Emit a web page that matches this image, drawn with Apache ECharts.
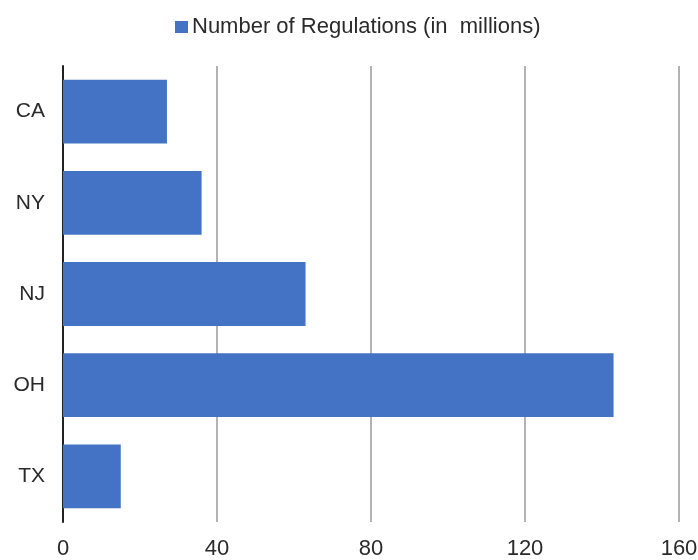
<!DOCTYPE html>
<html>
<head>
<meta charset="utf-8">
<script src="https://cdn.jsdelivr.net/npm/echarts@6/dist/echarts.min.js"></script>
<style>
  html, body { margin: 0; padding: 0; background: #fff; }
  #chart { width: 698px; height: 560px; }
</style>
</head>
<body>
<div id="chart"></div>
<script>
// states, top to bottom
const states = ["CA", "NY", "NJ", "OH", "TX"];
const regulations = [27, 36, 63, 143, 15];
const xTicks = [0, 40, 80, 120, 160];

const chart = echarts.init(document.getElementById("chart"));

const option = {
  animation: false,
  legend: {
    data: ["Number of Regulations (in  millions)"],
    top: 11,
    left: 170,
    icon: "rect",
    itemWidth: 13,
    itemHeight: 12,
    itemGap: 4,
    textStyle: {
      fontFamily: "Liberation Sans",
      fontSize: 22,
      color: "#2a2a2a",
      padding: [0, 0, 0, -1],
    },
  },
  grid: {
    left: 63,
    right: 19,
    top: 66,
    bottom: 38,
    containLabel: false,
    outerBoundsMode: "none",
  },
  xAxis: {
    type: "value",
    min: xTicks[0],
    max: xTicks[xTicks.length - 1],
    interval: 40,
    axisLine: { show: false },
    axisTick: { show: false },
    axisLabel: {
      fontFamily: "Liberation Sans",
      fontSize: 22,
      color: "#2a2a2a",
      margin: 16,
    },
    splitLine: {
      show: true,
      lineStyle: { color: "#b3b3b3", width: 2 },
    },
  },
  yAxis: {
    type: "category",
    data: states,
    inverse: true,
    axisLine: {
      show: true,
      lineStyle: { color: "#222", width: 2 },
    },
    axisTick: { show: false },
    axisLabel: {
      fontFamily: "Liberation Sans",
      fontSize: 21,
      color: "#2a2a2a",
      margin: 18,
    },
  },
  series: [
    {
      name: "Number of Regulations (in  millions)",
      type: "bar",
      data: regulations,
      barCategoryGap: "30%",
      itemStyle: {
        color: "#4472C4",
      },
    },
  ],
};

chart.setOption(option);
</script>
</body>
</html>
